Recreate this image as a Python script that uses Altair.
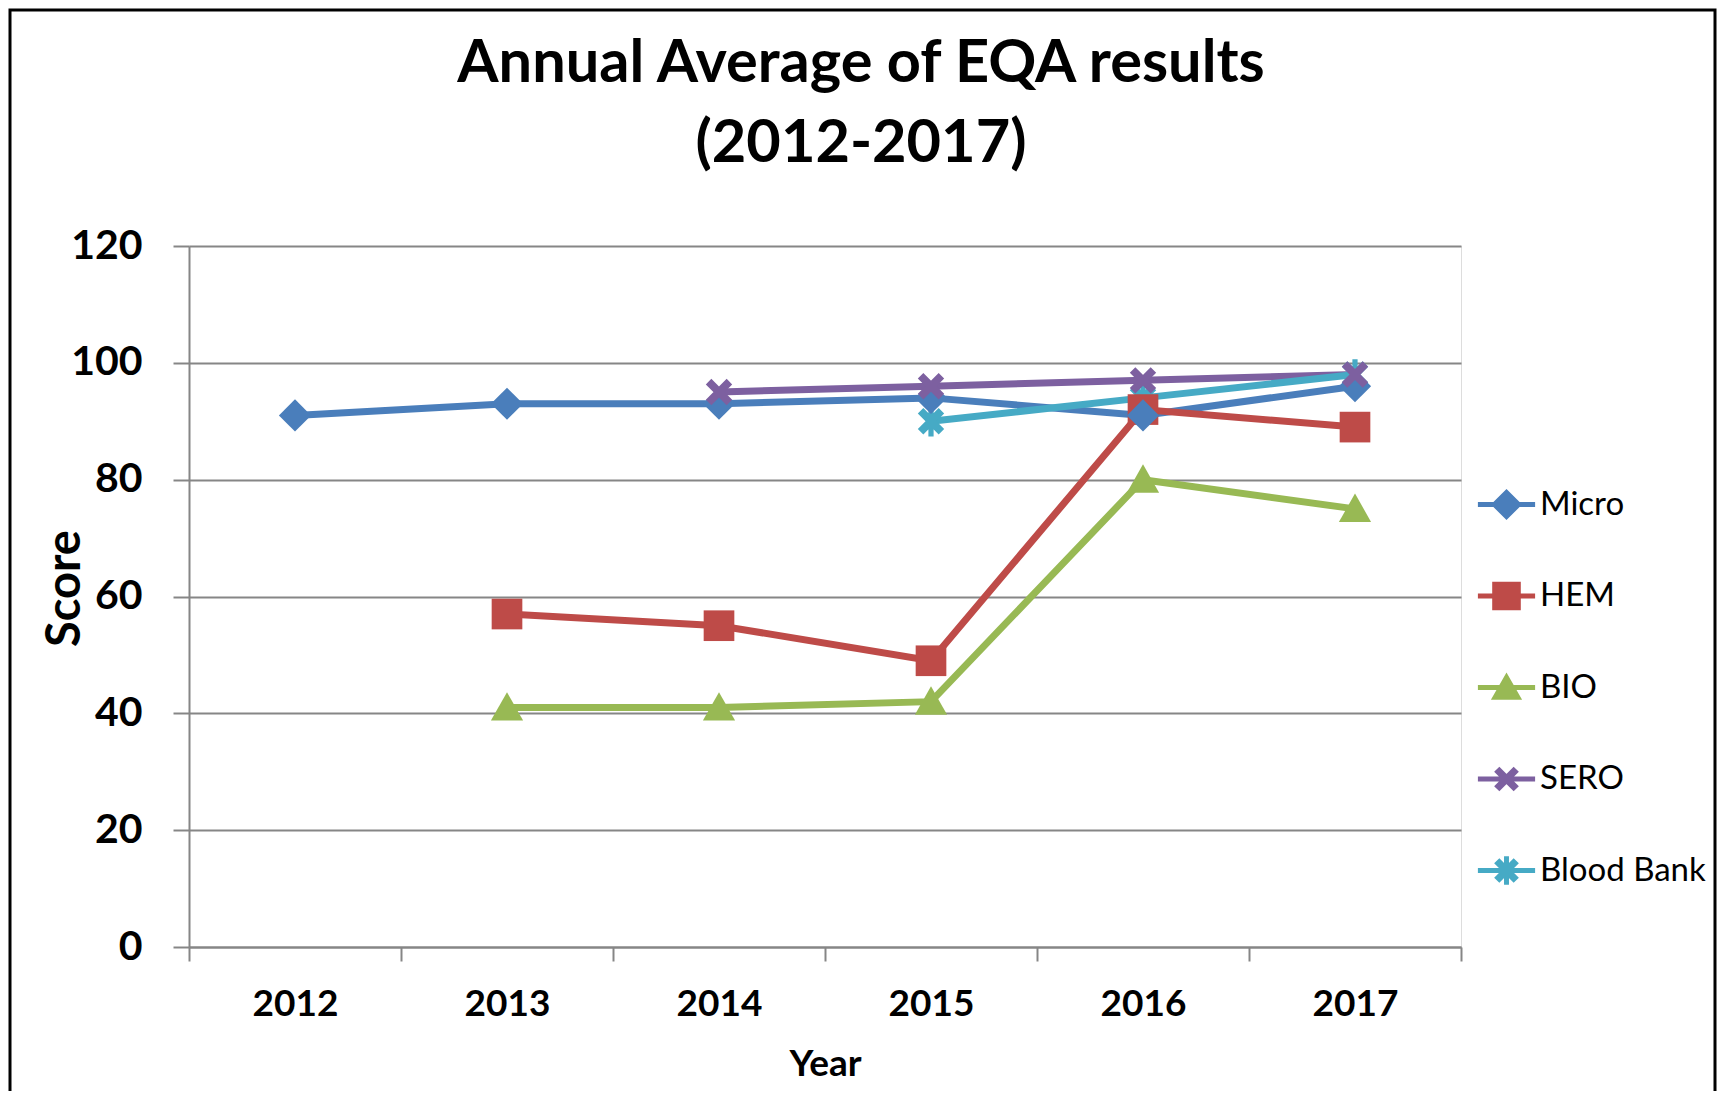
import altair as alt
import pandas as pd

years = ["2012", "2013", "2014", "2015", "2016", "2017"]
series = ["Micro", "HEM", "BIO", "SERO", "Blood Bank"]
micro = [91, 93, 93, 94, 91, 96]
hem = [None, 57, 55, 49, 92, 89]
bio = [None, 41, 41, 42, 80, 75]
sero = [None, None, 95, 96, 97, 98]
blood_bank = [None, None, None, 90, 94, 98]
colors = ["#4A7EBB", "#BE4B48", "#98B954", "#7D60A0", "#46AAC5"]

values = {"Micro": micro, "HEM": hem, "BIO": bio, "SERO": sero, "Blood Bank": blood_bank}
rows = []
for s in series:
    for y, v in zip(years, values[s]):
        if v is not None:
            rows.append({"Year": y, "Score": v, "Series": s})
df = pd.DataFrame(rows)

# marker shapes (custom symbol paths, unit box -1..1)
DIAMOND = "M0,-1.05L1.05,0L0,1.05L-1.05,0Z"
SQUARE = "M-1,-1L1,-1L1,1L-1,1Z"
TRIANGLE = "M0,-1L1.05,0.85L-1.05,0.85Z"
XMARK = ("M-0.5,-0.86L0.86,0.5L0.5,0.86L-0.86,-0.5Z"
         "M-0.5,0.86L-0.86,0.5L0.5,-0.86L0.86,-0.5Z")
STAR = XMARK + "M-0.17,-1L0.17,-1L0.17,1L-0.17,1Z"
point_shapes = [DIAMOND, SQUARE, TRIANGLE, XMARK, STAR]

# legend symbols: a line segment through a slightly larger marker
L_DIAMOND = "M0,-1.2L1.2,0L0,1.2L-1.2,0Z"
L_SQUARE = "M-1.1,-1.1L1.1,-1.1L1.1,1.1L-1.1,1.1Z"
L_TRIANGLE = "M0,-1.15L1.2,0.95L-1.2,0.95Z"
L_XMARK = ("M-0.55,-0.95L0.95,0.55L0.55,0.95L-0.95,-0.55Z"
           "M-0.55,0.95L-0.95,0.55L0.55,-0.95L0.95,-0.55Z")
L_STAR = L_XMARK + "M-0.19,-1.1L0.19,-1.1L0.19,1.1L-0.19,1.1Z"
LINE = "M-2.2,-0.2L2.2,-0.2L2.2,0.2L-2.2,0.2Z"
legend_shapes = [LINE + s for s in [L_DIAMOND, L_SQUARE, L_TRIANGLE, L_XMARK, L_STAR]]

FONT = "Lato"

x_enc = alt.X(
    "Year:O",
    sort=years,
    scale=alt.Scale(type="band", paddingInner=0, paddingOuter=0),
    axis=alt.Axis(
        title="Year",
        labelAngle=0,
        tickBand="extent",
        tickSize=14,
        tickWidth=2,
        tickColor="#868686",
        domainColor="#868686",
        domainWidth=2,
        labelFont=FONT,
        labelFontSize=37,
        labelFontWeight="bold",
        labelColor="black",
        labelBaseline="alphabetic",
        labelPadding=54,
        titleFont=FONT,
        titleFontSize=37,
        titleFontWeight="bold",
        titleColor="black",
        titleBaseline="alphabetic",
        titleY=128,
        grid=False,
    ),
)
y_enc = alt.Y(
    "Score:Q",
    scale=alt.Scale(domain=[0, 120]),
    axis=alt.Axis(
        title="Score",
        values=[0, 20, 40, 60, 80, 100, 120],
        tickSize=16,
        tickWidth=2,
        tickColor="#868686",
        domainColor="#868686",
        domainWidth=2,
        gridColor="#868686",
        gridWidth=2,
        labelFont=FONT,
        labelFontSize=41,
        labelFontWeight="bold",
        labelColor="black",
        labelPadding=31,
        titleFont=FONT,
        titleFontSize=47,
        titleFontWeight="bold",
        titleColor="black",
        titleBaseline="alphabetic",
        titleX=-110,
        titleY=342,
        titleAngle=-90,
    ),
)

color_scale = alt.Scale(domain=series, range=colors)

base = alt.Chart(df)

lines = base.mark_line(strokeWidth=7).encode(
    x=x_enc,
    y=y_enc,
    color=alt.Color("Series:N", scale=color_scale, legend=None),
    detail="Series:N",
)

points = base.mark_point(filled=True, opacity=1, size=940).encode(
    x=x_enc,
    y=y_enc,
    color=alt.Color("Series:N", scale=color_scale, legend=None),
    shape=alt.Shape("Series:N", scale=alt.Scale(domain=series, range=point_shapes), legend=None),
    order=alt.Order("Series:N"),
)

legend_props = dict(
    title=None,
    orient="none",
    legendX=1301,
    legendY=242,
    padding=0,
    rowPadding=57.5,
    labelOffset=17,
    labelLimit=400,
    labelFont=FONT,
    labelFontSize=33,
    labelColor="black",
    symbolSize=676,
    symbolStrokeWidth=0,
    symbolOpacity=1,
)

legend_layer = base.transform_filter("datum.Score < 0").mark_point(
    filled=True, opacity=1, size=676
).encode(
    x=x_enc,
    y=y_enc,
    color=alt.Color("Series:N", scale=color_scale, legend=alt.Legend(**legend_props)),
    shape=alt.Shape(
        "Series:N",
        scale=alt.Scale(domain=series, range=legend_shapes),
        legend=alt.Legend(**legend_props),
    ),
)

border = alt.Chart(pd.DataFrame({"k": [0]})).mark_rect(
    fill="transparent", stroke="black", strokeWidth=3, clip=False
).encode(
    x=alt.value(-179),
    x2=alt.value(1272 + 254),
    y=alt.value(-236),
    y2=alt.value(701 + 160),
)

chart = (
    alt.layer(border, lines, points, legend_layer)
    .resolve_scale(color="independent", shape="independent")
    .properties(
        width=1272,
        height=701,
        autosize=alt.AutoSizeParams(type="none"),
        padding={"left": 181, "top": 238, "right": 256, "bottom": 144},
        title=alt.TitleParams(
            text=["Annual Average of EQA results", "(2012-2017)"],
            font=FONT,
            fontSize=59.5,
            fontWeight="bold",
            color="black",
            lineHeight=80,
            anchor="middle",
            baseline="bottom",
            dx=36,
            dy=225,
            offset=0,
        ),
    )
    .configure_view(strokeWidth=0)
    .configure(background="white")
)

chart.save("out.html", embed_options={"renderer": "svg", "actions": False})
